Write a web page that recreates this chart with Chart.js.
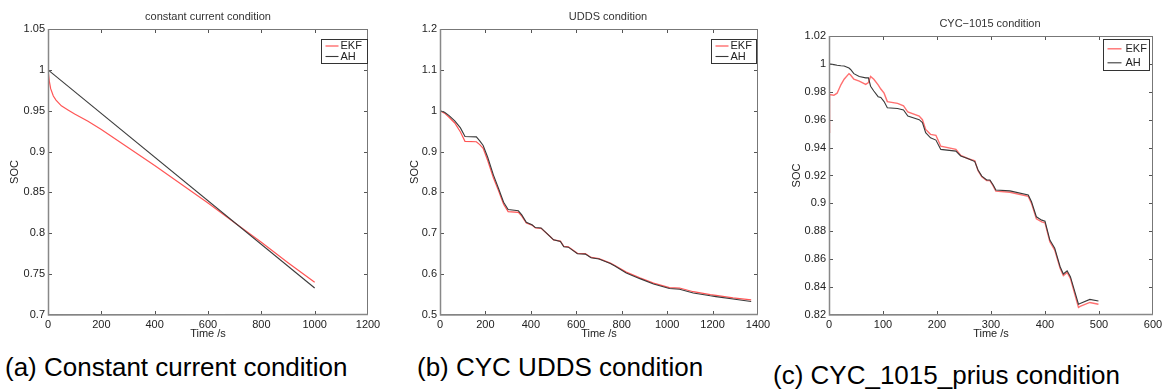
<!DOCTYPE html>
<html><head><meta charset="utf-8">
<script src="https://cdn.jsdelivr.net/npm/chart.js@4"></script>
<style>
html,body{margin:0;padding:0;background:#fff;}
body{width:1168px;height:392px;position:relative;overflow:hidden;font-family:"Liberation Sans",Arial,sans-serif;}
canvas{position:absolute;}
.t{position:absolute;font-size:11px;line-height:12px;color:#333;white-space:nowrap;transform:translateX(-50%);}
.cap{position:absolute;font-size:26px;line-height:26px;color:#000;white-space:nowrap;}
</style></head><body>
<canvas id="ca" width="390" height="341" style="left:0;top:0"></canvas>
<canvas id="cb" width="390" height="341" style="left:390px;top:0"></canvas>
<canvas id="cc" width="388" height="341" style="left:780px;top:0"></canvas>
<div class="t" style="left:208px;top:10px">constant current condition</div>
<div class="t" style="left:608px;top:10px">UDDS condition</div>
<div class="t" style="left:990px;top:17px">CYC−1015 condition</div>
<div class="cap" style="left:5px;top:354px">(a) Constant current condition</div>
<div class="cap" style="left:417px;top:354px">(b) CYC UDDS condition</div>
<div class="cap" style="left:773px;top:362px">(c) CYC_1015_prius condition</div>
<script>
// ---------- DATA ----------
const seriesNames = ['EKF', 'AH'];

// (a) constant current condition
const timeA_EKF = [0, 5, 10, 20, 30, 50, 75, 100, 150, 200, 300, 400, 500, 600, 700, 800, 900, 1000];
const socA_EKF  = [1.0, 0.986, 0.977, 0.968, 0.963, 0.956, 0.951, 0.946, 0.937, 0.927, 0.905, 0.883, 0.860, 0.837, 0.813, 0.789, 0.764, 0.740];
const timeA_AH  = [0, 1000];
const socA_AH   = [1.0, 0.733];
const xTicksA = [0, 200, 400, 600, 800, 1000, 1200];
const yTicksA = [0.7, 0.75, 0.8, 0.85, 0.9, 0.95, 1, 1.05];

// (b) UDDS condition
const timeB = [0, 20, 40, 65, 90, 110, 160, 175, 190, 210, 235, 257, 280, 300, 345, 360, 380, 405, 420, 445, 485, 500, 530, 545, 565, 605, 640, 665, 700, 750, 770, 820, 880, 940, 1010, 1055, 1115, 1190, 1215, 1290, 1370];
const socB_AH  = [1.0, 0.996, 0.988, 0.975, 0.958, 0.937, 0.936, 0.926, 0.915, 0.886, 0.843, 0.811, 0.776, 0.758, 0.755, 0.745, 0.727, 0.721, 0.714, 0.713, 0.692, 0.684, 0.680, 0.667, 0.666, 0.650, 0.649, 0.640, 0.637, 0.626, 0.620, 0.603, 0.589, 0.576, 0.565, 0.563, 0.554, 0.547, 0.545, 0.539, 0.533];
const socB_EKF = [1.0, 0.994, 0.984, 0.970, 0.948, 0.925, 0.924, 0.917, 0.908, 0.878, 0.836, 0.805, 0.771, 0.753, 0.751, 0.742, 0.725, 0.720, 0.713, 0.712, 0.692, 0.684, 0.681, 0.668, 0.667, 0.651, 0.650, 0.641, 0.638, 0.627, 0.621, 0.605, 0.591, 0.578, 0.567, 0.566, 0.557, 0.550, 0.548, 0.542, 0.537];
const xTicksB = [0, 200, 400, 600, 800, 1000, 1200, 1400];
const yTicksB = [0.5, 0.6, 0.7, 0.8, 0.9, 1, 1.1, 1.2];

// (c) CYC-1015 condition
const timeC = [0, 1, 9, 15, 22, 28, 37, 40, 46, 56, 68, 73, 77, 83, 91, 96, 102, 108, 127, 138, 146, 167, 173, 179, 188, 198, 207, 235, 244, 258, 270, 276, 283, 292, 298, 304, 309, 335, 369, 375, 384, 394, 400, 409, 418, 428, 434, 441, 447, 462, 465, 483, 499];
const socC_AH  = [1.000, 1.000, 0.9995, 0.999, 0.9987, 0.9985, 0.997, 0.996, 0.993, 0.991, 0.990, 0.990, 0.984, 0.9806, 0.9765, 0.976, 0.973, 0.9686, 0.968, 0.967, 0.9626, 0.960, 0.958, 0.9507, 0.947, 0.9454, 0.9387, 0.9375, 0.934, 0.932, 0.930, 0.924, 0.9196, 0.9168, 0.9168, 0.9132, 0.9096, 0.909, 0.906, 0.9012, 0.8904, 0.888, 0.8872, 0.8737, 0.8678, 0.8546, 0.8494, 0.8517, 0.8475, 0.8277, 0.8283, 0.8312, 0.830];
const socC_EKF = [0.951, 0.978, 0.9775, 0.979, 0.985, 0.989, 0.993, 0.992, 0.989, 0.9877, 0.9853, 0.9866, 0.991, 0.989, 0.985, 0.982, 0.979, 0.973, 0.9717, 0.970, 0.9655, 0.9626, 0.960, 0.953, 0.9495, 0.9488, 0.941, 0.9387, 0.9344, 0.932, 0.9305, 0.9235, 0.919, 0.9163, 0.9163, 0.9125, 0.9088, 0.908, 0.905, 0.900, 0.889, 0.8868, 0.886, 0.8725, 0.8665, 0.8535, 0.8482, 0.8505, 0.8463, 0.8254, 0.8262, 0.829, 0.8277];
const xTicksC = [0, 100, 200, 300, 400, 500, 600];
const yTicksC = [0.82, 0.84, 0.86, 0.88, 0.9, 0.92, 0.94, 0.96, 0.98, 1, 1.02];

// ---------- RENDERING ----------
const pts = (xs, ys) => xs.map((x, i) => ({x, y: ys[i]}));
const fmt = v => String(+(+v).toFixed(2));

const matlabFrame = {
  id: 'matlabFrame',
  afterDatasetsDraw(chart, args, o) {
    const {ctx, chartArea: a, scales: {x, y}} = chart;
    ctx.save();
    ctx.strokeStyle = '#555';
    ctx.lineWidth = 1;
    const L = 4;
    ctx.beginPath();
    x.ticks.forEach(t => {
      const p = Math.round(x.getPixelForValue(t.value)) + 0.5;
      if (p <= a.left + 1 || p >= a.right - 1) return;
      ctx.moveTo(p, a.bottom); ctx.lineTo(p, a.bottom - L);
      ctx.moveTo(p, a.top); ctx.lineTo(p, a.top + L);
    });
    y.ticks.forEach(t => {
      const p = Math.round(y.getPixelForValue(t.value)) + 0.5;
      if (p <= a.top + 1 || p >= a.bottom - 1) return;
      ctx.moveTo(a.left, p); ctx.lineTo(a.left + L, p);
      ctx.moveTo(a.right, p); ctx.lineTo(a.right - L, p);
    });
    ctx.stroke();
    // box
    ctx.strokeStyle = '#777';
    ctx.lineWidth = 1;
    ctx.strokeRect(Math.round(a.left) + 0.5, Math.round(a.top) + 0.5, Math.round(a.width) - 1, Math.round(a.height) - 1);
    ctx.strokeStyle = '#888';
    ctx.lineWidth = 1.5;
    ctx.beginPath();
    ctx.moveTo(Math.round(a.left) + 0.5, Math.round(a.top));
    ctx.lineTo(Math.round(a.left) + 0.5, Math.round(a.bottom));
    ctx.lineTo(Math.round(a.right), Math.round(a.bottom) - 0.5);
    ctx.stroke();
    // legend
    const lg = o.legend;
    const bx = Math.round(a.right - lg.right - lg.w) + 0.5;
    const by = Math.round(a.top + lg.top) + 0.5;
    ctx.fillStyle = '#fff';
    ctx.fillRect(bx, by, lg.w, lg.h);
    ctx.strokeStyle = '#333';
    ctx.lineWidth = 1;
    ctx.strokeRect(bx, by, lg.w, lg.h);
    ctx.font = '11px "Liberation Sans", Arial, sans-serif';
    ctx.textBaseline = 'middle';
    ctx.fillStyle = '#222';
    chart.data.datasets.forEach((ds, i) => {
      const ry = by + lg.first + i * lg.gap;
      ctx.strokeStyle = ds.borderColor;
      ctx.lineWidth = ds.borderWidth;
      ctx.beginPath();
      ctx.moveTo(bx + lg.l0, ry); ctx.lineTo(bx + lg.l1, ry);
      ctx.stroke();
      ctx.fillText(ds.label, bx + lg.tx, ry);
    });
    ctx.restore();
  }
};

function makeChart(id, datasets, xT, yT, g) {
  const tickFont = {family: '"Liberation Sans", Arial, sans-serif', size: 11};
  const titleFont = {family: '"Liberation Sans", Arial, sans-serif', size: 11};
  return new Chart(document.getElementById(id), {
    type: 'line',
    data: {datasets},
    plugins: [matlabFrame],
    options: {
      responsive: false, animation: false, devicePixelRatio: 1,
      layout: {padding: {left: g.pl, top: g.pt, right: g.pr, bottom: 0}},
      plugins: {legend: {display: false}, tooltip: {enabled: false}, title: {display: false},
        matlabFrame: {legend: g.legend}},
      elements: {point: {radius: 0}, line: {tension: 0}},
      scales: {
        x: {type: 'linear', min: xT[0], max: xT[xT.length - 1],
          afterBuildTicks: s => { s.ticks = xT.map(v => ({value: v})); },
          afterFit: s => { s.height = g.xh; },
          grid: {display: false, drawTicks: false}, border: {display: false},
          ticks: {font: tickFont, color: '#222', padding: 3, maxRotation: 0, autoSkip: false, callback: fmt},
          title: {display: true, text: 'Time /s', font: titleFont, color: '#222', padding: 0}},
        y: {type: 'linear', min: yT[0], max: yT[yT.length - 1],
          afterBuildTicks: s => { s.ticks = yT.map(v => ({value: v})); },
          afterFit: s => { s.width = g.yw; },
          grid: {display: false, drawTicks: false}, border: {display: false},
          ticks: {font: tickFont, color: '#222', padding: 3, autoSkip: false, callback: fmt},
          title: {display: true, text: 'SOC', font: titleFont, color: '#222', padding: 0}}
      }
    }
  });
}

const red = '#ff5555', dark = '#3a3a3a';
const legAB = {right: 1, top: 10, w: 46, h: 24, first: 6.5, gap: 10.5, l0: 4, l1: 17, tx: 19};

makeChart('ca', [
  {label: seriesNames[0], data: pts(timeA_EKF, socA_EKF), borderColor: red, borderWidth: 1.2, order: 1},
  {label: seriesNames[1], data: pts(timeA_AH, socA_AH), borderColor: dark, borderWidth: 1.1, order: 0}
], xTicksA, yTicksA, {pl: 8.4, pt: 29, pr: 22, yw: 39.6, xh: 26, legend: legAB});

makeChart('cb', [
  {label: seriesNames[0], data: pts(timeB, socB_EKF), borderColor: red, borderWidth: 1.2, order: 1},
  {label: seriesNames[1], data: pts(timeB, socB_AH), borderColor: dark, borderWidth: 1.1, order: 0}
], xTicksB, yTicksB, {pl: 18.4, pt: 29, pr: 22, yw: 31.6, xh: 26, legend: Object.assign({}, legAB, {right: 2, w: 45})});

makeChart('cc', [
  {label: seriesNames[0], data: pts(timeC, socC_EKF), borderColor: '#ff7070', borderWidth: 1.4, order: 1},
  {label: seriesNames[1], data: pts(timeC, socC_AH), borderColor: dark, borderWidth: 1.1, order: 0}
], xTicksC, yTicksC, {pl: 10.4, pt: 36, pr: 15, yw: 38.6, xh: 26,
  legend: {right: 4, top: 3, w: 46, h: 31, first: 9.3, gap: 14, l0: 4, l1: 18, tx: 22}});
</script>
</body></html>
